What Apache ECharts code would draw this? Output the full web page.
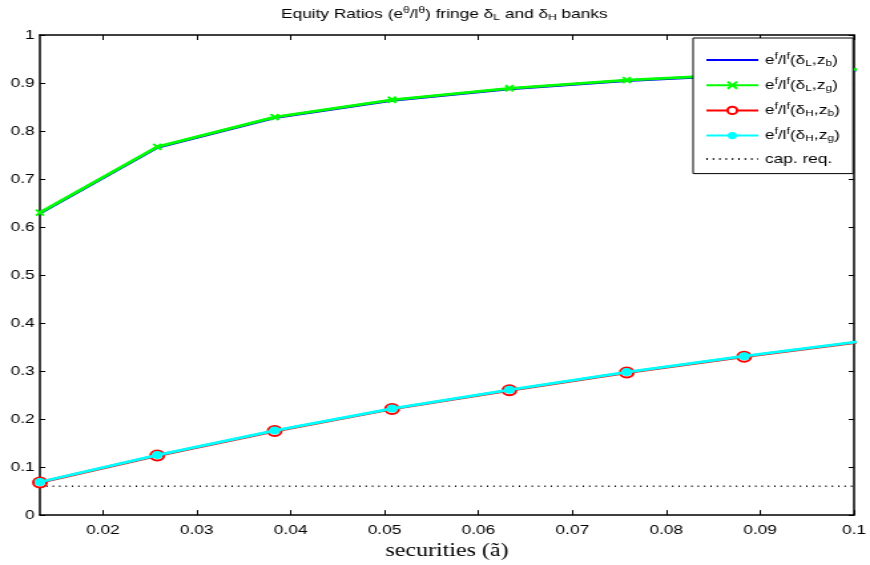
<!DOCTYPE html>
<html><head><meta charset="utf-8">
<script src="https://cdn.jsdelivr.net/npm/echarts@6/dist/echarts.min.js"></script>
<style>html,body{margin:0;padding:0;background:#fff;overflow:hidden}
#c{width:654px;height:565px;transform:scaleX(1.3303);transform-origin:0 0}</style>
</head><body><div id="c"></div>
<script>
const securities = [0.0133, 0.0258, 0.0383, 0.0508, 0.0633, 0.0758, 0.0883, 0.1008];
const eqLowBad   = [0.629, 0.766, 0.828, 0.864, 0.888, 0.905, 0.917, 0.928];
const eqLowGood  = [0.630, 0.767, 0.829, 0.865, 0.889, 0.906, 0.918, 0.929];
const eqHighBad  = [0.068, 0.124, 0.175, 0.221, 0.260, 0.297, 0.330, 0.361];
const eqHighGood = [0.069, 0.125, 0.176, 0.222, 0.261, 0.298, 0.331, 0.362];
const capReq     = [0.06, 0.06, 0.06, 0.06, 0.06, 0.06, 0.06, 0.06];
const xTicks = [0.02, 0.03, 0.04, 0.05, 0.06, 0.07, 0.08, 0.09, 0.1];
const X_MIN = 0.0133, X_MAX = 0.1;
const legendRich = {
  lb: '{n|e}{sup|f}{n|/l}{sup|f}{n|(δ}{sub|L}{n|,z}{sub|b}{n|)}',
  lg: '{n|e}{sup|f}{n|/l}{sup|f}{n|(δ}{sub|L}{n|,z}{sub|g}{n|)}',
  hb: '{n|e}{sup|f}{n|/l}{sup|f}{n|(δ}{sub|H}{n|,z}{sub|b}{n|)}',
  hg: '{n|e}{sup|f}{n|/l}{sup|f}{n|(δ}{sub|H}{n|,z}{sub|g}{n|)}',
  cap: '{n|cap. req.}'
};
// points beyond the axis maximum are clipped; their markers are hidden
const pairs = arr => securities.map((x, i) =>
  x > X_MAX ? {value: [x, arr[i]], symbol: 'none'} : [x, arr[i]]);
const FONT = "'Liberation Sans', Arial, sans-serif";
const SERIF = "'Liberation Serif', 'DejaVu Serif', serif";
const richStyles = (fs, lh) => ({
  n: {fontSize: fs, fontFamily: FONT, fontWeight: 'normal', color: '#000', lineHeight: lh},
  sup: {fontSize: Math.round(fs * 0.72), fontFamily: FONT, fontWeight: 'normal', color: '#000', padding: [0, 0, fs * 0.55, 0], lineHeight: lh},
  sub: {fontSize: Math.round(fs * 0.72), fontFamily: FONT, fontWeight: 'normal', color: '#000', padding: [fs * 0.5, 0, 0, 0], lineHeight: lh}
});
const xPath = 'path://M0,0L10,10M10,0L0,10';
const hide = {color: 'rgba(0,0,0,0)', borderColor: 'rgba(0,0,0,0)', borderWidth: 0};
const chart = echarts.init(document.getElementById('c'), null, {renderer: 'canvas'});
chart.setOption({
  animation: false,
  backgroundColor: '#fff',
  title: {
    text: '{n|Equity Ratios (e}{sup|θ}{n|/l}{sup|θ}{n|) fringe δ}{sub|L}{n| and δ}{sub|H}{n| banks}',
    left: 329, top: -1, textAlign: 'center',
    textStyle: {fontWeight: 'normal', rich: richStyles(13, 20)}
  },
  grid: {left: 30, right: 7.5, top: 35, bottom: 48, containLabel: false},
  legend: {
    orient: 'vertical', left: 521, top: 38,
    backgroundColor: '#fff', borderColor: '#000', borderWidth: 1, borderRadius: 0,
    padding: [14, 10, 8, 9], itemGap: 9, itemWidth: 39, itemHeight: 9,
    data: [
      {name: 'lb', itemStyle: hide},
      {name: 'lg'},
      {name: 'hb'},
      {name: 'hg'},
      {name: 'cap', itemStyle: hide}
    ],
    formatter: name => legendRich[name],
    textStyle: {rich: richStyles(13, 20)}
  },
  xAxis: [{
    type: 'value', min: X_MIN, max: X_MAX, position: 'bottom',
    name: 'securities (ã)', nameLocation: 'middle', nameGap: 21,
    nameTextStyle: {fontFamily: SERIF, fontSize: 18, color: '#000'},
    axisLine: {onZero: false, lineStyle: {color: '#000', width: 1.5}},
    axisTick: {inside: true, length: 5, customValues: xTicks, lineStyle: {color: '#000'}},
    axisLabel: {customValues: xTicks, formatter: v => String(v), fontFamily: FONT, fontSize: 13, color: '#000', margin: 9},
    splitLine: {show: false}
  }, {
    type: 'value', min: X_MIN, max: X_MAX, position: 'top',
    axisLine: {onZero: false, lineStyle: {color: '#000', width: 1.5}},
    axisTick: {inside: true, length: 5, customValues: xTicks, lineStyle: {color: '#000'}},
    axisLabel: {show: false}, splitLine: {show: false}
  }],
  yAxis: [{
    type: 'value', min: 0, max: 1, interval: 0.1, position: 'left',
    axisLine: {show: true, onZero: false, lineStyle: {color: '#000', width: 1.5}},
    axisTick: {show: true, inside: true, length: 4, lineStyle: {color: '#000'}},
    axisLabel: {fontFamily: FONT, fontSize: 13, color: '#000', margin: 4},
    splitLine: {show: false}
  }, {
    type: 'value', min: 0, max: 1, interval: 0.1, position: 'right',
    axisLine: {show: true, onZero: false, lineStyle: {color: '#000', width: 1.5}},
    axisTick: {show: true, inside: true, length: 4, lineStyle: {color: '#000'}},
    axisLabel: {show: false}, splitLine: {show: false}
  }],
  series: [
    {name: 'lb', type: 'line', data: pairs(eqLowBad), symbol: 'none',
     lineStyle: {color: '#0000ff', width: 2.8}, itemStyle: {color: '#0000ff'}, clip: true, z: 2},
    {name: 'lg', type: 'line', data: pairs(eqLowGood), symbol: xPath, symbolSize: 6,
     lineStyle: {color: '#00ff00', width: 2.8}, itemStyle: {color: '#00ff00', borderColor: '#00ff00', borderWidth: 2}, clip: true, z: 3},
    {name: 'hb', type: 'line', data: pairs(eqHighBad), symbol: 'emptyCircle', symbolSize: 10,
     lineStyle: {color: '#ff0000', width: 2.8}, itemStyle: {color: '#ff0000', borderColor: '#ff0000', borderWidth: 1.5}, clip: true, z: 4},
    {name: 'hg', type: 'line', data: pairs(eqHighGood), symbol: 'circle', symbolSize: 8,
     lineStyle: {color: '#00ffff', width: 2.8}, itemStyle: {color: '#00ffff'}, clip: true, z: 5},
    {name: 'cap', type: 'line', data: pairs(capReq), symbol: 'none',
     lineStyle: {color: '#000', width: 1.5, type: [1, 3.8]}, itemStyle: {color: '#000'}, clip: true, z: 1}
  ]
});
</script></body></html>
